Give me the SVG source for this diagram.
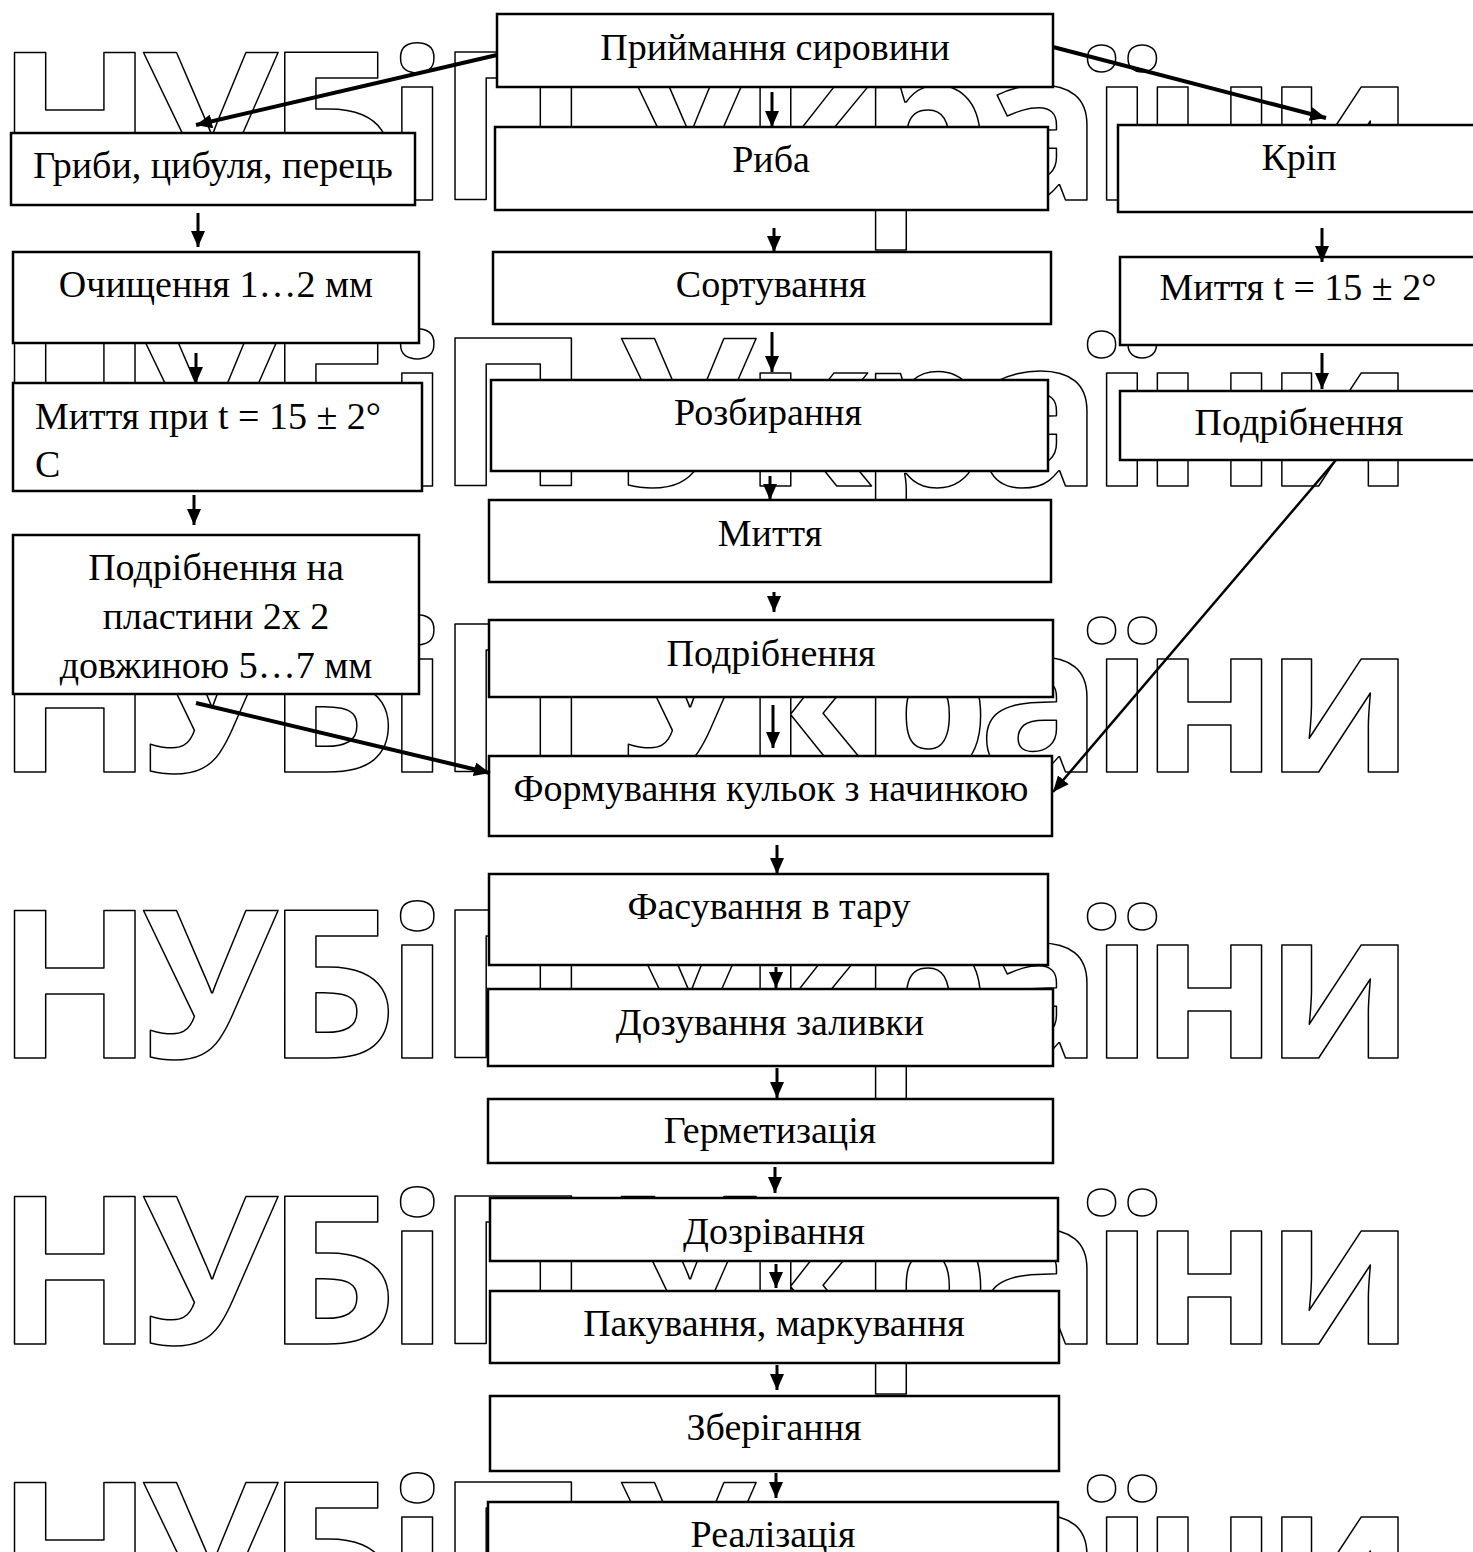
<svg xmlns="http://www.w3.org/2000/svg" width="1473" height="1552" viewBox="0 0 1473 1552">
<style>
.box{fill:#fff;stroke:#000;stroke-width:2.5}
.t{font-family:"Liberation Serif","Times New Roman",serif;font-size:38px;fill:#000}
.c{text-anchor:middle}
.wm{font-family:"Open Sans",sans-serif;font-weight:700;font-size:206px;fill:none;stroke:#000;stroke-width:1.5;stroke-linejoin:round}
.a{stroke:#000;stroke-width:3;fill:none;marker-end:url(#ah)}
.d{stroke:#000;stroke-width:4;fill:none;marker-end:url(#ah)}
.d2{stroke:#000;stroke-width:2.5;fill:none;marker-end:url(#ah)}
</style>
<defs>
<marker id="ah" markerUnits="userSpaceOnUse" markerWidth="16" markerHeight="14" refX="16" refY="7" orient="auto"><path d="M0,0 L16,7 L0,14 z" fill="#000"/></marker>
</defs>
<g id="watermark">
<text class="wm" x="-4" y="200" textLength="1418" lengthAdjust="spacing">НУБіП України</text>
<text class="wm" x="-4" y="486" textLength="1418" lengthAdjust="spacing">НУБіП України</text>
<text class="wm" x="-4" y="772" textLength="1418" lengthAdjust="spacing">НУБіП України</text>
<text class="wm" x="-4" y="1058" textLength="1418" lengthAdjust="spacing">НУБіП України</text>
<text class="wm" x="-4" y="1344" textLength="1418" lengthAdjust="spacing">НУБіП України</text>
<text class="wm" x="-4" y="1630" textLength="1418" lengthAdjust="spacing">НУБіП України</text>
</g>
<g id="n-pryimannia"><rect class="box" x="497" y="14" width="556" height="73"/><text class="t c" x="775" y="60">Приймання сировини</text></g>
<g id="n-ryba"><rect class="box" x="495" y="127" width="553" height="83"/><text class="t c" x="771" y="172">Риба</text></g>
<g id="n-sortuvannia"><rect class="box" x="493" y="252" width="558" height="72"/><text class="t c" x="771" y="297">Сортування</text></g>
<g id="n-rozbyrannia"><rect class="box" x="491" y="380" width="557" height="91"/><text class="t c" x="768" y="425">Розбирання</text></g>
<g id="n-myttia"><rect class="box" x="489" y="500" width="562" height="82"/><text class="t c" x="770" y="546">Миття</text></g>
<g id="n-podribnennia"><rect class="box" x="489" y="620" width="564" height="77"/><text class="t c" x="771" y="666">Подрібнення</text></g>
<g id="n-formuvannia"><rect class="box" x="489" y="756" width="563" height="80"/><text class="t c" x="771" y="801">Формування кульок з начинкою</text></g>
<g id="n-fasuvannia"><rect class="box" x="489" y="874" width="559" height="91"/><text class="t c" x="769" y="919">Фасування в тару</text></g>
<g id="n-dozuvannia"><rect class="box" x="488" y="989" width="565" height="77"/><text class="t c" x="770" y="1035">Дозування заливки</text></g>
<g id="n-hermetyzatsiia"><rect class="box" x="488" y="1099" width="565" height="64"/><text class="t c" x="770" y="1143">Герметизація</text></g>
<g id="n-dozrivannia"><rect class="box" x="490" y="1198" width="568" height="63"/><text class="t c" x="774" y="1244">Дозрівання</text></g>
<g id="n-pakuvannia"><rect class="box" x="490" y="1291" width="569" height="72"/><text class="t c" x="774" y="1336">Пакування, маркування</text></g>
<g id="n-zberihannia"><rect class="box" x="490" y="1396" width="569" height="75"/><text class="t c" x="774" y="1440">Зберігання</text></g>
<g id="n-realizatsiia"><rect class="box" x="488" y="1502" width="570" height="80"/><text class="t c" x="773" y="1547">Реалізація</text></g>
<g id="n-hryby"><rect class="box" x="11" y="133" width="404" height="72"/><text class="t c" x="213" y="178">Гриби, цибуля, перець</text></g>
<g id="n-ochyshchennia"><rect class="box" x="13" y="252" width="406" height="91"/><text class="t c" x="216" y="297">Очищення 1…2 мм</text></g>
<g id="n-myttia-hryby"><rect class="box" x="13" y="383" width="409" height="108"/><text class="t" x="35" y="429">Миття при t = 15 ± 2°</text><text class="t" x="35" y="477">С</text></g>
<g id="n-podribnennia-hryby"><rect class="box" x="13" y="535" width="406" height="159"/><text class="t c" x="216" y="580">Подрібнення на</text><text class="t c" x="216" y="629">пластини 2х 2</text><text class="t c" x="216" y="678">довжиною 5…7 мм</text></g>
<g id="n-krip"><rect class="box" x="1118" y="125" width="370" height="87"/><text class="t c" x="1299" y="170">Кріп</text></g>
<g id="n-myttia-krip"><rect class="box" x="1120" y="257" width="368" height="88"/><text class="t c" x="1298" y="300">Миття t = 15 ± 2°</text></g>
<g id="n-podribnennia-krip"><rect class="box" x="1120" y="391" width="368" height="69"/><text class="t c" x="1299" y="435">Подрібнення</text></g>
<g id="connectors">
<line class="a" x1="772" y1="92" x2="772" y2="127"/>
<line class="a" x1="774" y1="228" x2="774" y2="252"/>
<line class="a" x1="772" y1="332" x2="772" y2="372"/>
<line class="a" x1="770" y1="476" x2="770" y2="500"/>
<line class="a" x1="774" y1="592" x2="774" y2="612"/>
<line class="a" x1="773" y1="705" x2="773" y2="748"/>
<line class="a" x1="777" y1="845" x2="777" y2="874"/>
<line class="a" x1="776" y1="967" x2="776" y2="988"/>
<line class="a" x1="777" y1="1068" x2="777" y2="1098"/>
<line class="a" x1="775" y1="1167" x2="775" y2="1193"/>
<line class="a" x1="776" y1="1264" x2="776" y2="1288"/>
<line class="a" x1="777" y1="1365" x2="777" y2="1390"/>
<line class="a" x1="776" y1="1473" x2="776" y2="1498"/>
<line class="a" x1="198" y1="213" x2="198" y2="247"/>
<line class="a" x1="196" y1="353" x2="196" y2="383"/>
<line class="a" x1="194" y1="495" x2="194" y2="525"/>
<line class="a" x1="1322" y1="228" x2="1322" y2="262"/>
<line class="a" x1="1322" y1="353" x2="1322" y2="389"/>
<line class="d" x1="497" y1="55" x2="196" y2="125"/>
<line class="d" x1="1053" y1="47" x2="1326" y2="118"/>
<line class="d" x1="196" y1="703" x2="490" y2="773"/>
<line class="d2" x1="1336" y1="460" x2="1053" y2="792"/>
</g>
</svg>
